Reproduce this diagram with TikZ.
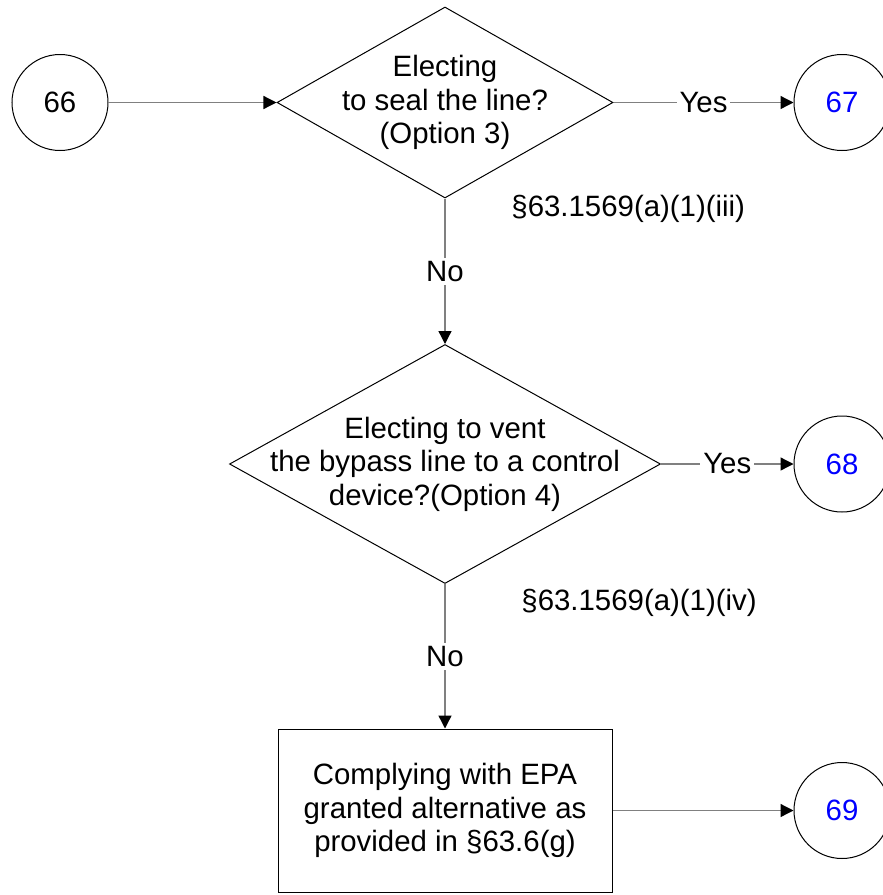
\documentclass[tikz,border=0pt]{standalone}
\usepackage{fontspec}
\setmainfont{Liberation Sans}
\usetikzlibrary{positioning, arrows.meta, shapes.geometric, calc}

\begin{document}
\begin{tikzpicture}[>={Triangle[length=6.5pt,width=6.5pt,color=black]},
    font=\fontsize{14.7pt}{16.7pt}\selectfont,
    every node/.style={inner sep=0pt},
    link/.style={->,draw=black!50,line width=0.65pt},
    conn/.style={circle,draw,line width=0.5pt,minimum size=48pt},
    decision/.style={diamond,draw,line width=0.5pt},
    process/.style={rectangle,draw,line width=0.5pt,align=center,minimum width=167pt,minimum height=81.5pt},
    answer/.style={fill=white,inner sep=1.5pt}]
      \useasboundingbox (0,0) rectangle (441.5pt,-447.5pt);
      \node[conn] (c66) at (30pt,-51.25pt) {66};
      \node[decision,minimum width=168pt,minimum height=95.5pt,right=84pt of c66,
        label={[align=center]center:Electing\\to seal the line?\\(Option 3)}] (d1) {};
      \node[conn,text=blue,right=90pt of d1] (c67) {67};
      \node[decision,minimum width=215.5pt,minimum height=119.5pt,below=72.75pt of d1,
        label={[align=center]center:Electing to vent\\the bypass line to a control\\device?(Option 4)}] (d2) {};
      \node[conn,text=blue] (c68) at (c67 |- d2) {68};
      \node[process,below=72.25pt of d2] (proc) {Complying with EPA\\granted alternative as\\provided in §63.6(g)};
      \node[conn,text=blue] (c69) at (c67 |- proc) {69};
      \node[anchor=base west] (ref1) at ($(d1.south)+(33pt,-8.75pt)$) {§63.1569(a)(1)(iii)};
      \node[anchor=base west] (ref2) at ($(d2.south)+(38pt,-13.25pt)$) {§63.1569(a)(1)(iv)};
      \draw[link] (c66) -- (d1);
      \draw[link] (d1) -- node[answer] {Yes} (c67);
      \draw[link] (d1) -- node[answer] {No} (d2);
      \draw[link] (d2) -- node[answer] {Yes} (c68);
      \draw[link] (d2) -- node[answer] {No} (proc);
      \draw[link] (proc) -- (c69);
    \end{tikzpicture}
\end{document}
